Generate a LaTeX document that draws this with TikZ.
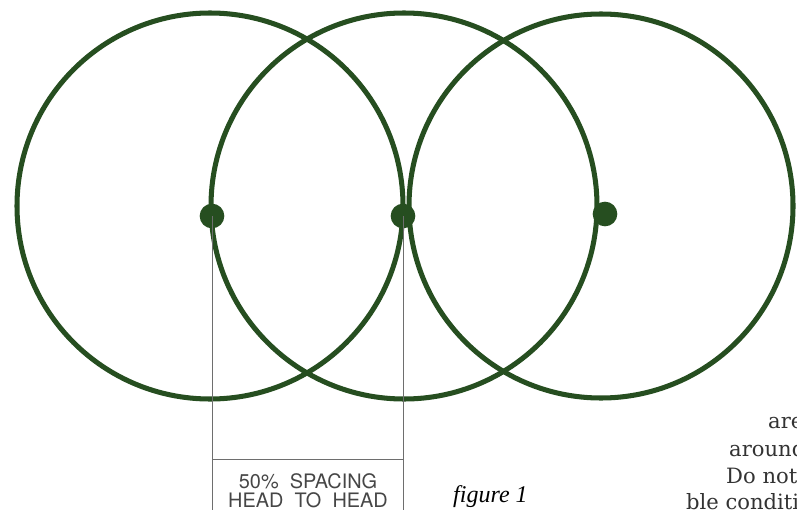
\documentclass[tikz,border=0pt]{standalone}
\usepackage{fontspec}
\setmainfont{Liberation Serif}
\setsansfont{TeX Gyre Heros}
\newfontfamily\bodyfont{DejaVu Serif}
\usepackage{xcolor}
\usetikzlibrary{positioning,calc}
\definecolor{headgreen}{RGB}{38,78,32}
\definecolor{rulegray}{RGB}{110,110,110}
\definecolor{textgray}{RGB}{70,70,70}

\begin{document}
\begin{tikzpicture}[
    x=0.03cm, y=-0.03cm,
    ring/.style={draw=headgreen, line width=4.3pt},
    head/.style={circle, fill=headgreen, inner sep=0pt, minimum size=0.74cm},
    guide/.style={draw=rulegray, line width=0.5pt},
    label/.style={font=\sffamily\fontsize{17}{17}\selectfont, color=textgray, align=center, inner sep=0pt},
    body/.style={font=\bodyfont\fontsize{18}{20}\selectfont, color=black!80, anchor=base west, inner sep=0pt}
  ]
    \useasboundingbox (0,0) rectangle (797,510);

    % three overlapping fields
    \draw[ring] (210,206) circle (193);
    \draw[ring] (404,206) circle (193);
    \draw[ring] (601,206) circle (192);

    \node[head] (headA) at (212,216) {};
    \node[head] (headB) at (403,216) {};
    \node[head] (headC) at (605,214) {};

    % spacing dimension
    \coordinate (endA) at (212,510);
    \coordinate (endB) at (403,510);
    \draw[guide] (headA.center) -- (endA);
    \draw[guide] (headB.center) -- (endB);
    \draw[guide] ($(headA.center)!0.827!(endA)$) coordinate (barA) -- (barA -| headB.center);
    \node[label, anchor=base] (spacing) at (308,488) {50\%\ \ SPACING};
    \node[label, below=3pt of spacing] (spacingB) {HEAD\ \ TO\ \ HEAD};

    \node[font=\itshape\fontsize{20.5}{22}\selectfont, anchor=base west, inner sep=0pt] (caption) at (453,502) {figure 1};

    % running text cut by the page edge
    \begin{scope}
      \clip (0,0) rectangle (797,510);
      \node[body] (lineA) at (768,428) {are};
      \node[body] (lineB) at (729,456) {around};
      \node[body] (lineC) at (726,483) {Do not};
      \node[body] (lineD) at (686,509) {ble conditi};
    \end{scope}
\end{tikzpicture}
\end{document}
